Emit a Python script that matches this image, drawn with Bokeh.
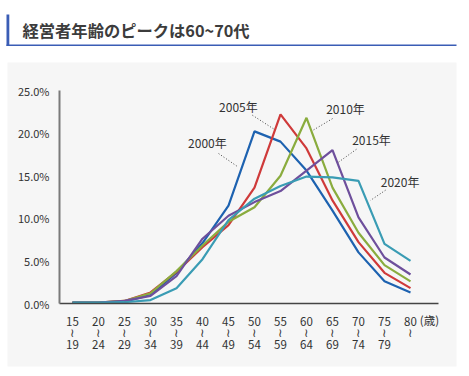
from bokeh.plotting import figure
from bokeh.models import Range1d, FixedTicker, PrintfTickFormatter, ColumnDataSource
from bokeh.core.properties import value
from bokeh.embed import file_html
from bokeh.resources import INLINE

# ---- data ----
age_start = [15, 20, 25, 30, 35, 40, 45, 50, 55, 60, 65, 70, 75, 80]
years = ["2000年", "2005年", "2010年", "2015年", "2020年"]
s2000 = [0.1, 0.1, 0.2, 1.0, 3.6, 7.1, 11.5, 20.2, 19.0, 15.6, 10.9, 6.0, 2.6, 1.3]
s2005 = [0.1, 0.1, 0.3, 1.3, 3.7, 6.6, 9.2, 13.6, 22.2, 18.2, 12.1, 7.2, 3.6, 1.8]
s2010 = [0.1, 0.1, 0.3, 1.2, 3.8, 6.8, 9.6, 11.3, 15.0, 21.8, 13.6, 8.3, 4.5, 2.6]
s2015 = [0.1, 0.1, 0.3, 0.9, 3.2, 7.6, 10.3, 11.9, 13.2, 15.6, 18.0, 10.1, 5.4, 3.4]
s2020 = [0.1, 0.1, 0.15, 0.4, 1.8, 5.2, 9.8, 12.3, 13.8, 14.9, 14.8, 14.4, 7.0, 5.0]
series = [s2000, s2005, s2010, s2015, s2020]
colors = ["#1d62b0", "#cf3a3a", "#8aac3e", "#6e4f9c", "#3a9cb4"]
y_ticks = [0, 5, 10, 15, 20, 25]
unit_label = "(歳)"
title_text = "経営者年齢のピークは60~70代"

# annotation label positions (category index, value) and leader lines
lab_x = [5.19, 6.38, 10.5, 11.5, 12.6]
lab_y = [18.95, 23.1, 22.9, 19.3, 14.3]
lead_x0 = [5.62, 6.92, 10.0, 10.92, 12.04]
lead_y0 = [17.6, 22.1, 21.7, 18.1, 13.3]
lead_x1 = [6.38, 7.73, 9.23, 10.19, 11.46]
lead_y1 = [16.0, 20.5, 20.3, 16.5, 12.1]

FONT = value("Noto Sans CJK JP")
PANEL = "#f6f6f6"
W, H = 458, 368

# pixel helpers for the decorative frame (26 px per category, 8.52 px per %)
X0PX, DX = 72.0, 26.0
Y0PX, DY = 303.0, 8.52
def ix(px):
    return (px - X0PX) / DX
def vy(py):
    return (Y0PX - py) / DY

p = figure(width=W, height=H,
           x_range=Range1d(ix(0), ix(W)), y_range=Range1d(vy(H), vy(0)),
           toolbar_location=None, output_backend="svg",
           min_border=0, min_border_left=0, min_border_right=0,
           min_border_top=0, min_border_bottom=0)
p.background_fill_color = "white"
p.border_fill_color = "white"
p.outline_line_color = None
p.grid.visible = False

# gray panel
p.quad(left=[ix(7)], right=[ix(456)], top=[vy(62)], bottom=[vy(366)],
       fill_color=PANEL, line_color=None)
# title block
p.quad(left=[ix(6)], right=[ix(8.8)], top=[vy(14)], bottom=[vy(45.5)],
       fill_color="#3a5db5", line_color=None)
p.segment(x0=[ix(6)], y0=[vy(44.8)], x1=[ix(456)], y1=[vy(44.8)],
          line_color="#3a5db5", line_width=1.6)
p.text(x=[ix(22)], y=[vy(29.5)], text=[title_text], text_font=FONT,
       text_font_size="16.3px", text_font_style="bold", text_color="#3c3c3c",
       text_baseline="middle", text_align="left")

xs = list(range(len(age_start)))
for s, c in zip(series, colors):
    p.line(xs, s, line_color=c, line_width=2.2)

src = ColumnDataSource(dict(x=lab_x, y=lab_y, t=years))
p.text(x="x", y="y", text="t", source=src, text_font=FONT, text_font_size="12px",
       text_color="#333333", text_align="center", text_baseline="middle")
p.segment(x0=lead_x0, y0=lead_y0, x1=lead_x1, y1=lead_y1, line_color="#444444",
          line_width=1, line_dash="1 2")

# unit label next to the last tick
p.text(x=[xs[-1] + 0.36], y=[vy(319)], text=[unit_label], text_font=FONT,
       text_font_size="11.5px", text_color="#333333", text_baseline="middle",
       text_align="left")

# axes (fixed inside the frame)
p.yaxis.fixed_location = -0.5
p.yaxis.bounds = (0, 25)
p.yaxis.ticker = FixedTicker(ticks=y_ticks)
p.yaxis.formatter = PrintfTickFormatter(format="%.1f%%")
p.yaxis.axis_line_color = "#7a7a7a"
p.yaxis.axis_line_width = 2
p.yaxis.major_label_standoff = 4

p.xaxis.fixed_location = 0
p.xaxis.bounds = (-0.5, ix(438))
p.xaxis.ticker = FixedTicker(ticks=xs)
overrides = {}
for i, a in enumerate(age_start):
    if i < len(age_start) - 1:
        overrides[i] = f"{a}\n≀\n{a + 4}"
    else:
        overrides[i] = f"{a}\n≀"
p.xaxis.major_label_overrides = overrides
p.xaxis.axis_line_color = "#444444"
p.xaxis.axis_line_width = 1.5
p.xaxis.major_label_standoff = 3
p.xaxis.major_label_text_line_height = 0.72

for ax in (p.xaxis, p.yaxis):
    ax.major_tick_line_color = None
    ax.minor_tick_line_color = None
    ax.major_label_text_font = "Noto Sans CJK JP"
    ax.major_label_text_color = "#333333"
p.xaxis.major_label_text_font_size = "11.5px"
p.yaxis.major_label_text_font_size = "11px"

open("out.html", "w").write(file_html(p, INLINE))
